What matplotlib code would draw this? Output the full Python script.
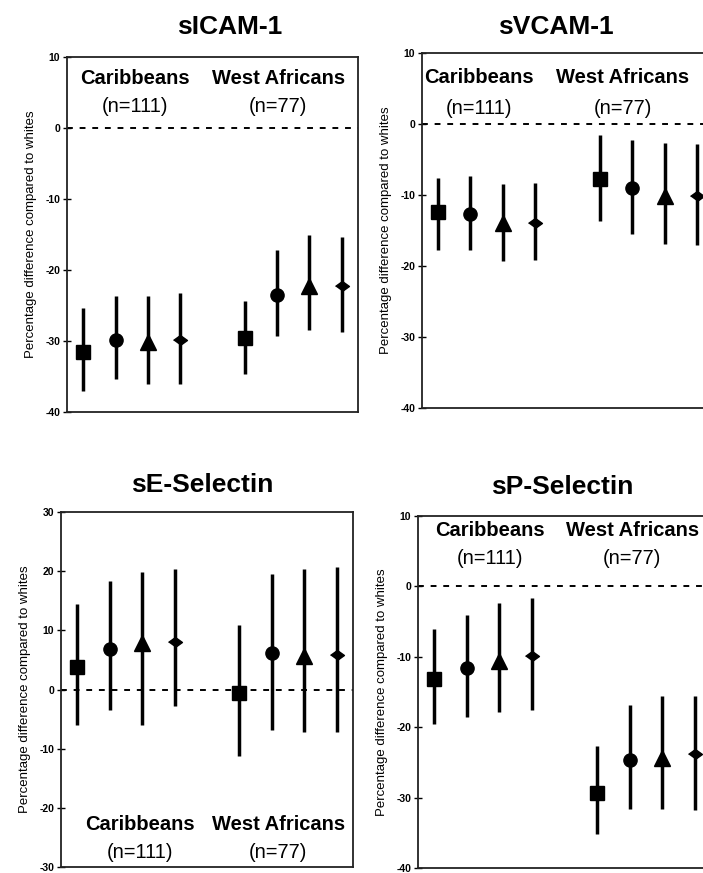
import numpy as np
from matplotlib import pyplot as plt

# x slots: 4 models per ethnic group, gap between groups
positions = [1, 2, 3, 4, 6, 7, 8, 9]
markers = ["s", "o", "^", [(-1, 0), (0, 0.72), (1, 0), (0, -0.72)]] * 2

# estimates and 95% CI (Caribbeans x4, West Africans x4)
icam_est = [-31.5, -29.9, -30.2, -29.8, -29.6, -23.5, -22.3, -22.2]
icam_lo = [-37.0, -35.4, -36.0, -36.0, -34.6, -29.3, -28.4, -28.7]
icam_hi = [-25.4, -23.6, -23.6, -23.2, -24.3, -17.2, -15.1, -15.3]

vcam_est = [-12.35, -12.7, -14.0, -13.9, -7.8, -9.0, -10.1, -10.2]
vcam_lo = [-17.7, -17.7, -19.3, -19.2, -13.7, -15.5, -16.9, -17.0]
vcam_hi = [-7.55, -7.3, -8.5, -8.3, -1.6, -2.3, -2.7, -2.8]

esel_est = [3.8, 6.9, 7.9, 8.1, -0.6, 6.1, 5.6, 5.8]
esel_lo = [-6.0, -3.5, -6.0, -2.8, -11.2, -6.8, -7.2, -7.2]
esel_hi = [14.4, 18.3, 19.8, 20.3, 10.9, 19.5, 20.4, 20.7]

psel_est = [-13.1, -11.6, -10.6, -9.9, -29.3, -24.7, -24.4, -23.8]
psel_lo = [-19.6, -18.5, -17.9, -17.5, -35.2, -31.6, -31.6, -31.7]
psel_hi = [-6.0, -4.0, -2.3, -1.6, -22.6, -16.9, -15.5, -15.5]

W, H = 703, 873
fig = plt.figure(figsize=(W / 100, H / 100), dpi=100)

font = ["Liberation Sans", "DejaVu Sans"]


def panel(rect, title, title_xy, est, lo, hi, ylim, yticks, group_pos):
    l, b, r, t = rect
    ax = fig.add_axes([l / W, 1 - b / H, (r - l) / W, (b - t) / H])
    ax.axhline(0, color="black", lw=1.4, ls=(0, (3, 3.5)), zorder=1)
    for x, m, e, a, c in zip(positions, markers, est, lo, hi):
        ax.plot([x, x], [a, c], color="black", lw=2.5, solid_capstyle="butt", zorder=2)
        if isinstance(m, str):
            size = {"s": 9.5, "o": 9.5, "^": 11}[m]
        else:
            size = 10
        ax.plot(x, e, marker=m, markersize=size, color="black", zorder=3)
    ax.set_xlim(0.5, 9.5)
    ax.set_ylim(*ylim)
    ax.set_yticks(yticks)
    ax.set_yticklabels([str(v) for v in yticks], fontsize=7.5, fontweight="bold", family=font)
    ax.set_xticks([])
    ax.tick_params(axis="y", direction="inout", length=6, width=1, pad=2)
    for s in ax.spines.values():
        s.set_linewidth(1.3)
        s.set_color("#222222")
    ax.set_ylabel("Percentage difference compared to whites", fontsize=9.5,
                  family=font, labelpad=6)
    for (gx, gy1, gy2), name, n in zip(group_pos, ["Caribbeans", "West Africans"], ["(n=111)", "(n=77)"]):
        ax.text(gx, gy1, name, ha="center", va="center", fontsize=14.5, fontweight="bold", family=font)
        ax.text(gx, gy2, n, ha="center", va="center", fontsize=14.5, family=font)
    fig.text(title_xy[0] / W, 1 - title_xy[1] / H, title, ha="center", va="center",
             fontsize=19, fontweight="bold", family=font)
    return ax


panel((67, 412, 358, 57), "sICAM-1", (230, 27), icam_est, icam_lo, icam_hi,
      (-40, 10), [10, 0, -10, -20, -30, -40], [(2.6, 7.0, 3.0), (7.03, 7.0, 3.0)])
panel((422, 408, 713, 53), "sVCAM-1", (556, 27), vcam_est, vcam_lo, vcam_hi,
      (-40, 10), [10, 0, -10, -20, -30, -40], [(2.26, 6.5, 2.25), (6.7, 6.5, 2.25)])
panel((61, 867, 353, 512), "sE-Selectin", (202, 485), esel_est, esel_lo, esel_hi,
      (-30, 30), [30, 20, 10, 0, -10, -20, -30], [(2.93, -22.9, -27.6), (7.2, -22.9, -27.6)])
panel((418, 868, 711, 516), "sP-Selectin", (562, 487), psel_est, psel_lo, psel_hi,
      (-40, 10), [10, 0, -10, -20, -30, -40], [(2.7, 8.0, 4.0), (7.08, 8.0, 4.0)])

fig.savefig("out.png", dpi=100)
